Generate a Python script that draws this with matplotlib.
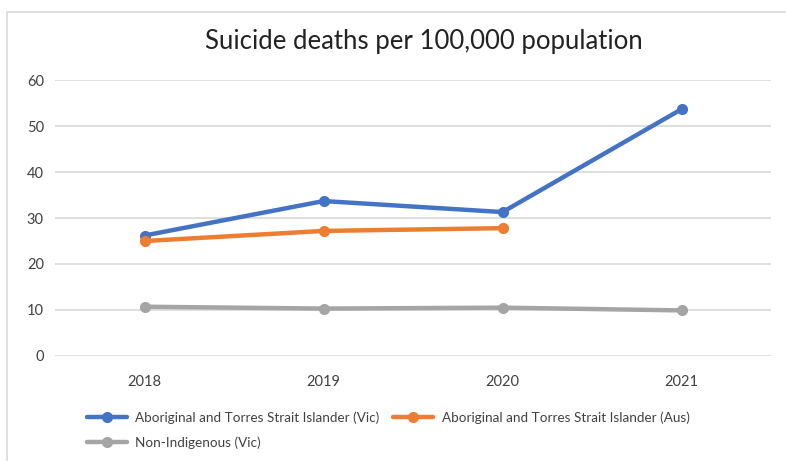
import matplotlib.pyplot as plt
from matplotlib.patches import Rectangle

plt.rcParams['font.family'] = ['Lato', 'DejaVu Sans']

years = ['2018', '2019', '2020', '2021']
atsi_vic = [26.2, 33.7, 31.3, 53.7]
atsi_aus = [25.0, 27.2, 27.8]
non_indig_vic = [10.7, 10.3, 10.5, 9.9]

fig = plt.figure(figsize=(7.86, 4.61), dpi=100)
ax = fig.add_axes([0.07, 0.228, 0.911, 0.598])

x = list(range(len(years)))
l1, = ax.plot(x, atsi_vic, color='#4472C4', lw=3.2, marker='o', ms=7,
              label='Aboriginal and Torres Strait Islander (Vic)', solid_capstyle='round')
l2, = ax.plot(x[:len(atsi_aus)], atsi_aus, color='#ED7D31', lw=3.2, marker='o', ms=7,
              label='Aboriginal and Torres Strait Islander (Aus)', solid_capstyle='round')
l3, = ax.plot(x, non_indig_vic, color='#A5A5A5', lw=3.2, marker='o', ms=7,
              label='Non-Indigenous (Vic)', solid_capstyle='round')

ax.set_xlim(-0.5, 3.5)
ax.set_ylim(0, 60)
ax.set_yticks(range(0, 61, 10))
ax.set_xticks(x)
ax.set_xticklabels(years)
ax.grid(axis='y', color='#D9D9D9', lw=1.2)
ax.set_axisbelow(True)
for s in ax.spines.values():
    s.set_visible(False)
ax.tick_params(length=0, labelsize=10.5, colors='#404040', pad=8)
ax.tick_params(axis='x', pad=14)

fig.text(0.539, 0.91, 'Suicide deaths per 100,000 population', ha='center', va='center',
         fontsize=18.5, color='#222222')

fig.legend([l1, l3, l2], [l1.get_label(), l3.get_label(), l2.get_label()],
           loc='lower left', bbox_to_anchor=(0.095, 0.0), ncol=2, frameon=False,
           fontsize=9.7, handlelength=3, columnspacing=1.0, labelspacing=0.95,
           handletextpad=0.6, labelcolor='#404040')

fig.patches.append(Rectangle((0.009, -0.1), 1.1, 1.074, transform=fig.transFigure,
                             fill=False, edgecolor='#D9D9D9', lw=1.2))

fig.savefig('out.png', dpi=100)
